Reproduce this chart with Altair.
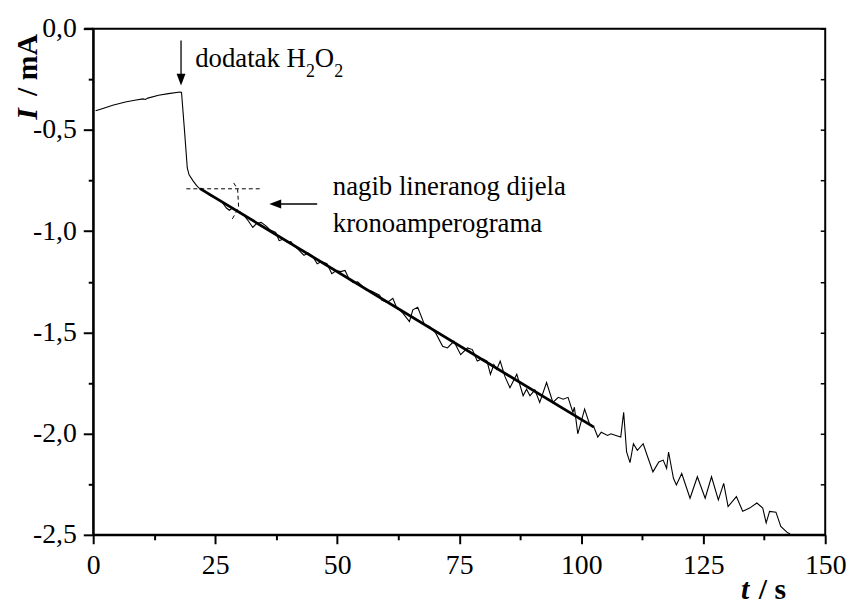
import altair as alt
import pandas as pd

# ---------------- data ----------------
# slow baseline, H2O2 addition, sharp drop
t_a = [0.5, 2.0, 4.0, 6.6, 8.5, 10.2, 10.7, 11.2, 13.4, 15.4,
       17.8, 18.1, 18.7, 19.28, 19.63, 20.5, 21.2, 21.86]
i_a = [-0.406, -0.394, -0.378, -0.362, -0.354, -0.347, -0.350, -0.343, -0.329, -0.321,
       -0.313, -0.315, -0.500, -0.688, -0.721, -0.753, -0.775, -0.791]
# linear part (first half)
t_b = [22.2, 23.0, 23.8, 24.9, 25.7, 26.5, 27.3, 27.9, 28.6, 29.3,
       30.1, 31.0, 31.8, 32.7, 33.5, 34.4, 35.4, 36.3, 37.4, 38.1,
       38.9, 39.8, 40.5, 41.1, 42.0, 43.2, 44.0, 44.9, 45.9, 46.8,
       47.9, 48.9, 49.8, 50.7, 51.6, 52.5, 53.3, 54.2, 55.1, 56.0,
       56.9, 57.8, 58.7, 59.1, 60.0, 60.7, 61.4]
i_b = [-0.794, -0.803, -0.822, -0.835, -0.842, -0.860, -0.886, -0.897, -0.885, -0.900,
       -0.905, -0.925, -0.950, -0.982, -0.962, -0.957, -0.974, -0.995, -1.006, -1.047,
       -1.040, -1.055, -1.052, -1.071, -1.090, -1.120, -1.108, -1.122, -1.161, -1.150,
       -1.161, -1.210, -1.195, -1.200, -1.194, -1.240, -1.255, -1.250, -1.270, -1.292,
       -1.295, -1.305, -1.316, -1.341, -1.350, -1.345, -1.332]
# linear part (second half)
t_c = [62.1, 62.8, 63.5, 64.8, 65.5, 66.5, 67.9, 68.9, 70.2, 71.6,
       72.6, 73.9, 75.3, 76.7, 77.7, 78.7, 79.7, 80.7, 81.4, 82.1,
       82.7, 83.4, 84.4, 85.4, 86.8, 88.1, 88.8, 89.5, 90.5, 91.5,
       92.9, 94.2, 95.3, 96.3, 97.3, 98.3, 98.6, 99.3, 100.7, 101.7,
       102.6]
i_c = [-1.373, -1.389, -1.406, -1.447, -1.389, -1.376, -1.463, -1.471, -1.504, -1.569,
       -1.577, -1.544, -1.610, -1.577, -1.585, -1.642, -1.630, -1.642, -1.707, -1.659,
       -1.683, -1.642, -1.720, -1.773, -1.707, -1.813, -1.781, -1.813, -1.784, -1.846,
       -1.748, -1.846, -1.821, -1.830, -1.821, -1.895, -1.870, -2.001, -1.879, -1.952,
       -1.968]
# tail
t_d = [103.4, 104.1, 105.4, 106.1, 107.1, 108.1, 108.7, 109.3, 110.0, 110.7,
       111.5, 112.7, 113.5, 114.7, 115.9, 116.8, 117.5, 117.9, 118.9, 119.5,
       120.6, 122.3, 123.8, 125.4, 126.7, 128.1, 129.2, 130.1, 131.8, 133.1,
       134.5, 136.0, 137.2, 137.9, 138.6, 139.9, 140.9, 142.3, 142.8]
i_d = [-2.017, -1.993, -2.009, -2.001, -2.009, -2.017, -1.895, -2.091, -2.143, -2.050,
       -2.083, -2.050, -2.107, -2.189, -2.140, -2.131, -2.172, -2.091, -2.221, -2.254,
       -2.197, -2.319, -2.213, -2.319, -2.213, -2.327, -2.246, -2.360, -2.311, -2.384,
       -2.368, -2.343, -2.368, -2.441, -2.384, -2.388, -2.458, -2.490, -2.495]

# fitted straight line of the linear part
fit_t = [21.9, 102.6]
fit_i = [-0.790, -1.968]

# dashed guide lines
dash_seg = ["h", "h", "v", "v", "v", "v"]
dash_t = [19.1, 34.7, 28.8, 29.6, 29.8, 28.3]
dash_i = [-0.791, -0.791, -0.762, -0.794, -0.884, -0.949]

x_major_vals = [0, 25, 50, 75, 100, 125, 150]
x_minor_vals = [12.5, 37.5, 62.5, 87.5, 112.5, 137.5]
y_major_vals = [0.0, -0.5, -1.0, -1.5, -2.0, -2.5]
y_minor_vals = [-0.25, -0.75, -1.25, -1.75, -2.25]
y_right_vals = [0.0, -0.25, -0.5, -0.75, -1.0, -1.25, -1.5, -1.75, -2.0, -2.25, -2.5]

# ---------------- chart ----------------
W, H = 739, 511
FONT = "Liberation Serif"

t_all = t_a + t_b + t_c + t_d
i_all = i_a + i_b + i_c + i_d
main = pd.DataFrame({"t": t_all, "I": i_all})
fit = pd.DataFrame({"t": fit_t, "I": fit_i})
dash = pd.DataFrame({"seg": dash_seg, "t": dash_t, "I": dash_i, "o": list(range(len(dash_t)))})

xs = alt.Scale(domain=[0, 150], nice=False, zero=False)
ys = alt.Scale(domain=[-2.5, 0], nice=False, zero=False)

y_label_expr = "(datum.value < 0 ? '-' : '') + replace(format(abs(datum.value), '.1f'), '.', ',')"

x_major = alt.Axis(orient="bottom", values=x_major_vals, format="d", title=None, grid=False,
                   tickSize=9, tickWidth=2, tickColor="black", domainWidth=2, domainColor="black",
                   labelFont=FONT, labelFontSize=28, labelColor="black", labelPadding=8,
                   labelOverlap=False, labelFlush=False)
y_major = alt.Axis(orient="left", values=y_major_vals, labelExpr=y_label_expr, title=None, grid=False,
                   tickSize=10, tickWidth=2, tickColor="black", domainWidth=2, domainColor="black",
                   labelFont=FONT, labelFontSize=28, labelColor="black", labelPadding=7,
                   labelOverlap=False, labelFlush=False, labelBaseline="middle")
x_minor = alt.Axis(orient="bottom", values=x_minor_vals, labels=False, title=None, grid=False,
                   tickSize=5, tickWidth=2, tickColor="black", domain=False)
y_minor = alt.Axis(orient="left", values=y_minor_vals, labels=False, title=None, grid=False,
                   tickSize=5, tickWidth=2, tickColor="black", domain=False)
y_right = alt.Axis(orient="right", values=y_right_vals, labels=False, title=None, grid=False,
                   tickSize=5, tickWidth=1.5, tickColor="black", domain=False, offset=-5)

base = alt.Chart(main)

line = base.mark_line(color="black", strokeWidth=1.1).encode(
    x=alt.X("t:Q", scale=xs, axis=x_major),
    y=alt.Y("I:Q", scale=ys, axis=y_major),
)
minor = base.mark_line(opacity=0).encode(
    x=alt.X("t:Q", scale=xs, axis=x_minor),
    y=alt.Y("I:Q", scale=ys, axis=y_minor),
)
right = base.mark_line(opacity=0).encode(
    x=alt.X("t:Q", scale=xs, axis=None),
    y=alt.Y("I:Q", scale=ys, axis=y_right),
)
fitline = alt.Chart(fit).mark_line(color="black", strokeWidth=2.8).encode(
    x=alt.X("t:Q", scale=xs, axis=None),
    y=alt.Y("I:Q", scale=ys, axis=None),
)
dashed = alt.Chart(dash).mark_line(color="black", strokeWidth=1, strokeDash=[4, 3]).encode(
    x=alt.X("t:Q", scale=xs, axis=None),
    y=alt.Y("I:Q", scale=ys, axis=None),
    detail="seg:N",
    order="o:Q",
)
# top frame line reaching a little left of the y axis, as in the original
top_stub = alt.Chart(pd.DataFrame({"k": [0]})).mark_rule(color="black", strokeWidth=2).encode(
    x=alt.value(-9), x2=alt.value(0), y=alt.value(0))

# arrows
arrow_v = alt.Chart(pd.DataFrame({"t": [18.0], "I": [-0.059], "I2": [-0.252]})).mark_rule(
    color="black", strokeWidth=1.3).encode(
    x=alt.X("t:Q", scale=xs, axis=None), y=alt.Y("I:Q", scale=ys, axis=None), y2="I2:Q")
arrow_h = alt.Chart(pd.DataFrame({"t": [45.9], "t2": [37.5], "I": [-0.866]})).mark_rule(
    color="black", strokeWidth=1.3).encode(
    x=alt.X("t:Q", scale=xs, axis=None), x2="t2:Q", y=alt.Y("I:Q", scale=ys, axis=None))
head_v = alt.Chart(pd.DataFrame({"t": [18.0], "I": [-0.2515]})).mark_point(
    shape="M-0.75,-1L0.75,-1L0,1Z", filled=True, color="black", opacity=1, size=144, strokeWidth=0).encode(
    x=alt.X("t:Q", scale=xs, axis=None), y=alt.Y("I:Q", scale=ys, axis=None))
head_h = alt.Chart(pd.DataFrame({"t": [37.3], "I": [-0.866]})).mark_point(
    shape="M1,-0.75L1,0.75L-1,0Z", filled=True, color="black", opacity=1, size=144, strokeWidth=0).encode(
    x=alt.X("t:Q", scale=xs, axis=None), y=alt.Y("I:Q", scale=ys, axis=None))


def data_text(s, t, i, size=27):
    return alt.Chart(pd.DataFrame({"t": [t], "I": [i], "s": [s]})).mark_text(
        font=FONT, fontSize=size, color="black", align="left", baseline="alphabetic").encode(
        x=alt.X("t:Q", scale=xs, axis=None), y=alt.Y("I:Q", scale=ys, axis=None), text="s:N")


def px_text(s, px, py, size=30, style="normal", angle=0):
    return alt.Chart(pd.DataFrame({"s": [s]})).mark_text(
        font=FONT, fontSize=size, fontWeight="bold", fontStyle=style, color="black",
        align="left", baseline="alphabetic", angle=angle).encode(
        x=alt.value(px), y=alt.value(py), text="s:N")


texts = [
    data_text("dodatak H", 20.9, -0.191),
    data_text("2", 43.6, -0.240, 18),
    data_text("O", 45.4, -0.191),
    data_text("2", 49.4, -0.240, 18),
    data_text("nagib lineranog dijela", 49.1, -0.822),
    data_text("kronoamperograma", 49.1, -1.003),
    px_text("I", -57, 92, 30, "italic", 270),
    px_text("/ mA", -57, 68, 30, "normal", 270),
    px_text("t", 654, 576, 30, "italic"),
    px_text("/ s", 672, 576, 30, "normal"),
]

chart = alt.layer(line, minor, right, fitline, dashed, top_stub, arrow_v, arrow_h, head_v, head_h,
                  *texts).resolve_axis(
    x="independent", y="independent"
).properties(
    width=W, height=H,
    autosize=alt.AutoSizeParams(type="none"),
    padding={"left": 86, "top": 18, "right": 23, "bottom": 69},
).configure_view(stroke="black", strokeWidth=2).configure_axis(labelFont=FONT)

chart.save("out.html", embed_options={"renderer": "svg", "actions": False})
